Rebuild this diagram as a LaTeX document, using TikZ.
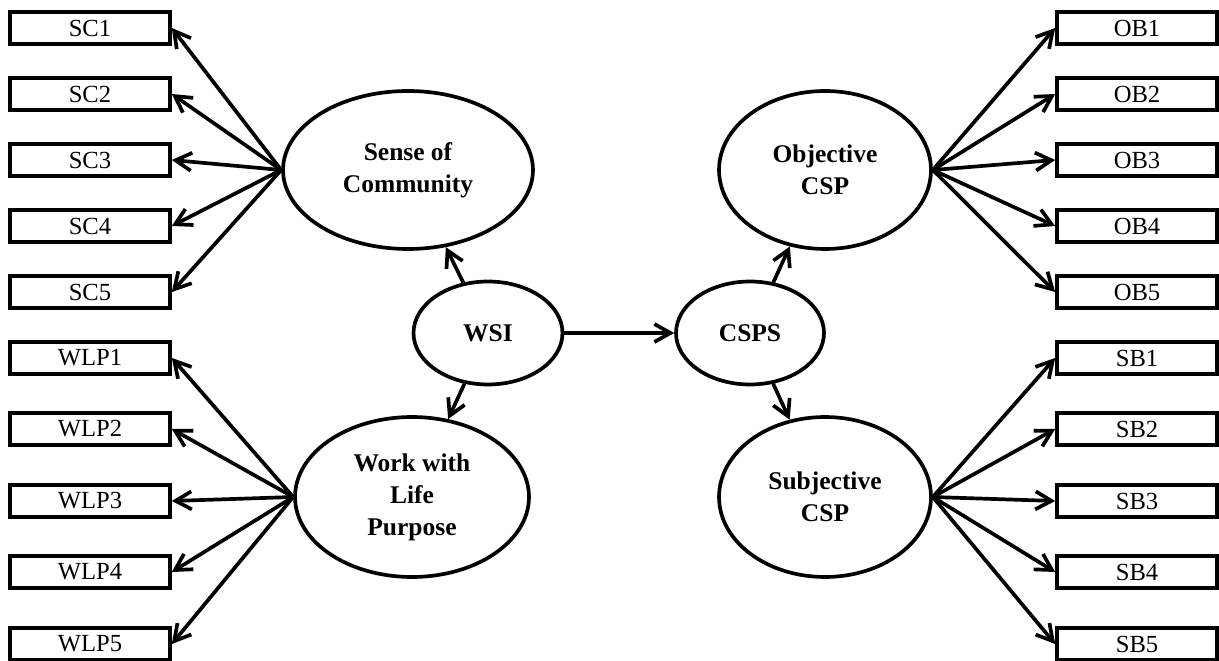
\documentclass[tikz,border=0pt]{standalone}
\usepackage{fontspec}
\setmainfont{Liberation Serif}
\usetikzlibrary{positioning,arrows.meta,shapes.geometric}

\begin{document}
\begin{tikzpicture}[
    x=0.02cm, y=-0.02cm,
    line width=2.1pt,
    item/.style   = {draw, rectangle, minimum width=3.2cm, minimum height=0.64cm,
      inner sep=0pt, font=\fontsize{14}{16}\selectfont},
    latent/.style = {draw, ellipse, inner sep=0pt, align=center,
      font=\fontsize{14.5}{18.2}\selectfont\bfseries},
    load/.style   = {-{Straight Barb[length=3.2mm,width=3.6mm]}}
  ]
  \useasboundingbox (0,0) rectangle (1219,661);

  \node [latent, minimum width=5cm, minimum height=3.16cm] (comm) at (408,170) {Sense of\\Community};
  \node [latent, minimum width=4.68cm, minimum height=3.2cm] (wlp) at (412,497) {Work with\\Life\\Purpose};
  \node [latent, minimum width=4.24cm, minimum height=3.16cm] (obj) at (825,170) {Objective\\CSP};
  \node [latent, minimum width=4.24cm, minimum height=3.2cm] (subj) at (825,497) {Subjective\\CSP};
  \node [latent, minimum width=2.98cm, minimum height=2.06cm] (wsi) at (488,333) {WSI};
  \node [latent, minimum width=2.96cm, minimum height=2.06cm] (csps) at (750,333) {CSPS};

  \foreach \i/\y in {1/28,2/94,3/160,4/226,5/292} {
    \node [item] (SC\i) at (90,\y) {SC\i};
    \node [item] (OB\i) at (1137,\y) {OB\i};
    \draw [load] (comm.west) -- (SC\i.east);
    \draw [load] (obj.east) -- (OB\i.west);
  }
  \foreach \i/\y in {1/358,2/429,3/501,4/572,5/644} {
    \node [item] (WLP\i) at (90,\y) {WLP\i};
    \node [item] (SB\i) at (1137,\y) {SB\i};
    \draw [load] (wlp.west) -- (WLP\i.east);
    \draw [load] (subj.east) -- (SB\i.west);
  }

  \draw [load] (wsi) -- (comm);
  \draw [load] (wsi) -- (wlp);
  \draw [load] (wsi) -- (csps);
  \draw [load] (csps) -- (obj);
  \draw [load] (csps) -- (subj);
\end{tikzpicture}
\end{document}
